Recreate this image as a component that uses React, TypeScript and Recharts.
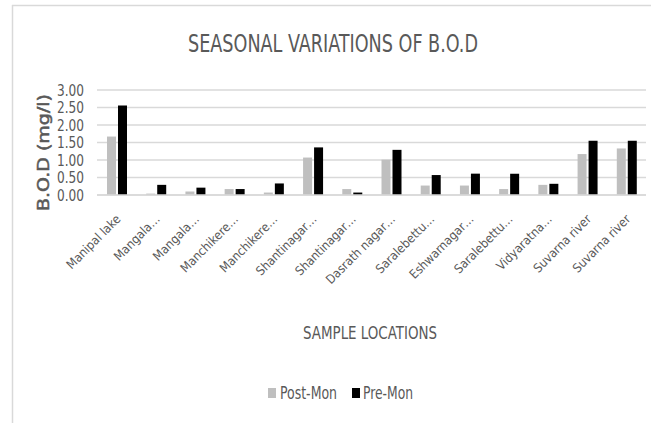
import React from 'react';
import { BarChart, Bar, XAxis, YAxis, CartesianGrid } from 'recharts';

const locations = [
  'Manipal lake',
  'Mangala…',
  'Mangala…',
  'Manchikere…',
  'Manchikere…',
  'Shantinagar…',
  'Shantinagar…',
  'Dasrath nagar…',
  'Saralebettu…',
  'Eshwarnagar…',
  'Saralebettu…',
  'Vidyaratna…',
  'Suvarna river',
  'Suvarna river',
];
const postMon = [1.67, 0.04, 0.1, 0.17, 0.07, 1.07, 0.17, 1.01, 0.27, 0.27, 0.17, 0.29, 1.17, 1.33];
const preMon = [2.56, 0.29, 0.21, 0.17, 0.33, 1.36, 0.07, 1.29, 0.57, 0.61, 0.61, 0.32, 1.55, 1.55];
const yTicks = [0, 0.5, 1, 1.5, 2, 2.5, 3];

const data = locations.map((name, i) => ({ name, post: postMon[i], pre: preMon[i] }));

const FONT = "'DejaVu Sans Condensed', 'Liberation Sans Narrow', 'Open Sans', sans-serif";
const TEXT = '#595959';

const XTick = (props: any) => {
  const { x, y, payload } = props;
  return (
    <g transform={`translate(${x + 2},${y + 14})`}>
      <text
        x={0}
        y={0}
        dy={4}
        textAnchor="end"
        transform="rotate(-45)"
        fill={TEXT}
        fontSize={12.5}
        fontFamily={FONT}
      >
        {payload.value}
      </text>
    </g>
  );
};

const YTick = (props: any) => {
  const { x, y, payload } = props;
  return (
    <text
      x={x - 27}
      y={y}
      dy={5.5}
      fill={TEXT}
      fontSize={15.5}
      fontFamily={FONT}
      textLength={27}
      lengthAdjust="spacingAndGlyphs"
    >
      {Number(payload.value).toFixed(2)}
    </text>
  );
};

export default function App() {
  return (
    <div style={{ position: 'absolute', left: 0, top: 0, width: 651, height: 423, background: '#fff' }}>
      <BarChart
        width={651}
        height={423}
        data={data}
        margin={{ top: 90, right: 5, left: 12, bottom: 0 }}
        barGap={2}
        barSize={9}
      >
        <CartesianGrid vertical={false} stroke="#d9d9d9" strokeWidth={1.5} />
        <XAxis
          dataKey="name"
          height={228}
          interval={0}
          tickLine={false}
          axisLine={{ stroke: '#d9d9d9', strokeWidth: 1.5 }}
          tick={<XTick />}
        />
        <YAxis
          width={85}
          domain={[0, 3]}
          ticks={yTicks}
          interval={0}
          tickLine={false}
          axisLine={false}
          tickMargin={7}
          tick={<YTick />}
        />
        <Bar dataKey="post" name="Post-Mon" fill="#bfbfbf" isAnimationActive={false} />
        <Bar dataKey="pre" name="Pre-Mon" fill="#000000" isAnimationActive={false} />
      </BarChart>
      <svg
        width={651}
        height={423}
        style={{ position: 'absolute', left: 0, top: 0, pointerEvents: 'none' }}
      >
        <line x1={12.5} y1={5} x2={12.5} y2={423} stroke="#d9d9d9" strokeWidth={1.5} />
        <line x1={12} y1={5.5} x2={651} y2={5.5} stroke="#d9d9d9" strokeWidth={1.5} />
        <text
          x={188}
          y={52}
          fill={TEXT}
          fontSize={25}
          fontFamily={FONT}
          textLength={290}
          lengthAdjust="spacingAndGlyphs"
        >
          SEASONAL VARIATIONS OF B.O.D
        </text>
        <text
          transform="translate(49,211) rotate(-90)"
          x={0}
          y={0}
          fill={TEXT}
          stroke={TEXT}
          strokeWidth={0.5}
          fontSize={16.5}
          fontFamily={FONT}
          textLength={117}
          lengthAdjust="spacingAndGlyphs"
        >
          B.O.D (mg/l)
        </text>
        <text
          x={303}
          y={339}
          fill={TEXT}
          fontSize={18}
          fontFamily={FONT}
          textLength={134}
          lengthAdjust="spacingAndGlyphs"
        >
          SAMPLE LOCATIONS
        </text>
        <rect x={268} y={388} width={8} height={10} fill="#bfbfbf" />
        <text
          x={280}
          y={398.5}
          fill={TEXT}
          fontSize={17}
          fontFamily={FONT}
          textLength={57}
          lengthAdjust="spacingAndGlyphs"
        >
          Post-Mon
        </text>
        <rect x={352} y={388} width={8} height={10} fill="#000000" />
        <text
          x={363}
          y={398.5}
          fill={TEXT}
          fontSize={17}
          fontFamily={FONT}
          textLength={50}
          lengthAdjust="spacingAndGlyphs"
        >
          Pre-Mon
        </text>
      </svg>
    </div>
  );
}
